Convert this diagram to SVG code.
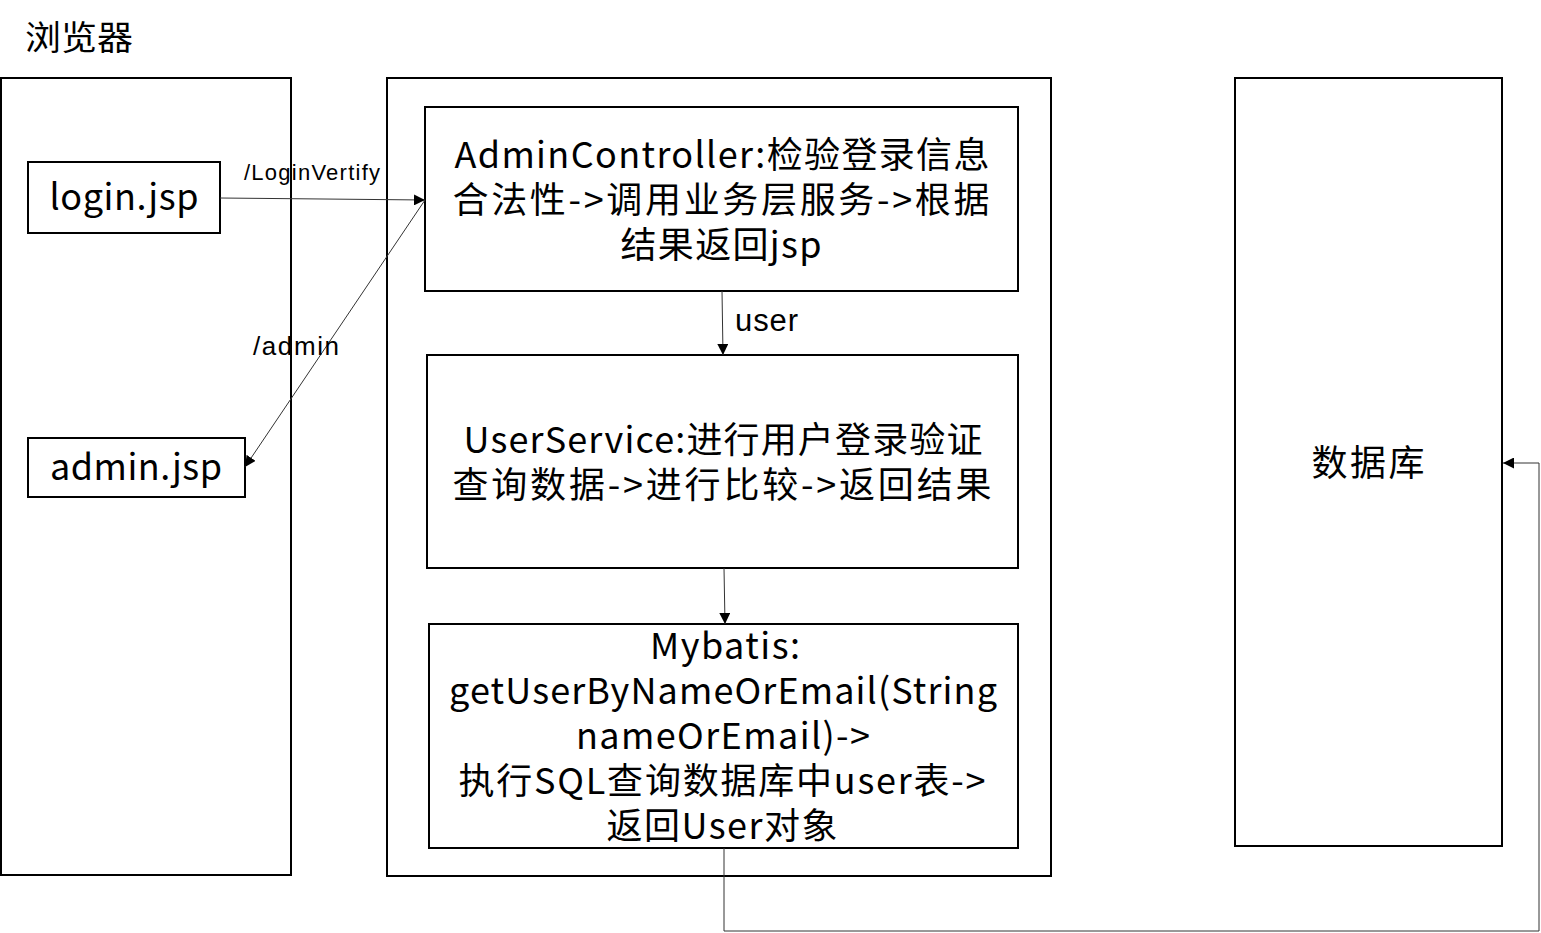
<svg xmlns="http://www.w3.org/2000/svg" width="1541" height="933" viewBox="0 0 1541 933">
<style>
.box{fill:#fff;stroke:#000;stroke-width:2}
.t{font-family:"Noto Sans CJK SC","Microsoft YaHei",sans-serif;font-size:36px;fill:#000;text-anchor:middle}
.lbl{font-family:"Liberation Sans",Arial,sans-serif;fill:#000}
.c{fill:none;stroke:#333;stroke-width:1}
</style>
<defs>
<marker id="ah" viewBox="0 0 10 10" refX="10" refY="5" markerWidth="11" markerHeight="11" markerUnits="userSpaceOnUse" orient="auto">
<path d="M0,0 L10,5 L0,10 z" fill="#000"/>
</marker>
</defs>
<rect width="1541" height="933" fill="#fff"/>
<text x="25" y="50" font-family="Noto Sans CJK SC,sans-serif" font-size="34" textLength="108" lengthAdjust="spacingAndGlyphs">浏览器</text>
<g id="browser"><rect class="box" x="1" y="78" width="290" height="797"/></g>
<g id="login"><rect class="box" x="28" y="162" width="192" height="71"/><text class="t" x="124" y="210" textLength="149">login.jsp</text></g>
<g id="admin"><rect class="box" x="28" y="438" width="217" height="59"/><text class="t" x="136" y="480" textLength="172">admin.jsp</text></g>
<g id="server"><rect class="box" x="387" y="78" width="664" height="798"/></g>
<g id="controller"><rect class="box" x="425" y="107" width="593" height="184"/>
<text class="t"><tspan x="722" y="168" textLength="535">AdminController:检验登录信息</tspan><tspan x="721" y="213" textLength="537">合法性-&gt;调用业务层服务-&gt;根据</tspan><tspan x="721" y="258" textLength="201">结果返回jsp</tspan></text></g>
<g id="service"><rect class="box" x="427" y="355" width="591" height="213"/>
<text class="t"><tspan x="723" y="453" textLength="519">UserService:进行用户登录验证</tspan><tspan x="722" y="498" textLength="539">查询数据-&gt;进行比较-&gt;返回结果</tspan></text></g>
<g id="mybatis"><rect class="box" x="429" y="624" width="589" height="224"/>
<text class="t"><tspan x="725" y="659" textLength="150">Mybatis:</tspan><tspan x="723" y="704" textLength="548">getUserByNameOrEmail(String</tspan><tspan x="723" y="749" textLength="294">nameOrEmail)-&gt;</tspan><tspan x="722" y="794" textLength="527">执行SQL查询数据库中user表-&gt;</tspan><tspan x="722" y="839" textLength="231">返回User对象</tspan></text></g>
<g id="db"><rect class="box" x="1235" y="78" width="267" height="768"/>
<text class="t" x="1368" y="476" textLength="113">数据库</text></g>
<g id="connectors">
<path class="c" d="M220,198 L425,200" marker-end="url(#ah)"/>
<path class="c" d="M425,200 L245,467" marker-end="url(#ah)"/>
<path class="c" d="M722,291 L723,355" marker-end="url(#ah)"/>
<path class="c" d="M724,568 L725,624" marker-end="url(#ah)"/>
<path class="c" d="M724,848 L724,931 L1539,931 L1539,463 L1503,463" marker-end="url(#ah)"/>
<text class="lbl" x="244" y="180" font-size="22" textLength="136">/LoginVertify</text>
<text class="lbl" x="253" y="355" font-size="26" textLength="86">/admin</text>
<text class="lbl" x="735" y="331" font-size="31" textLength="63">user</text>
</g>
</svg>
